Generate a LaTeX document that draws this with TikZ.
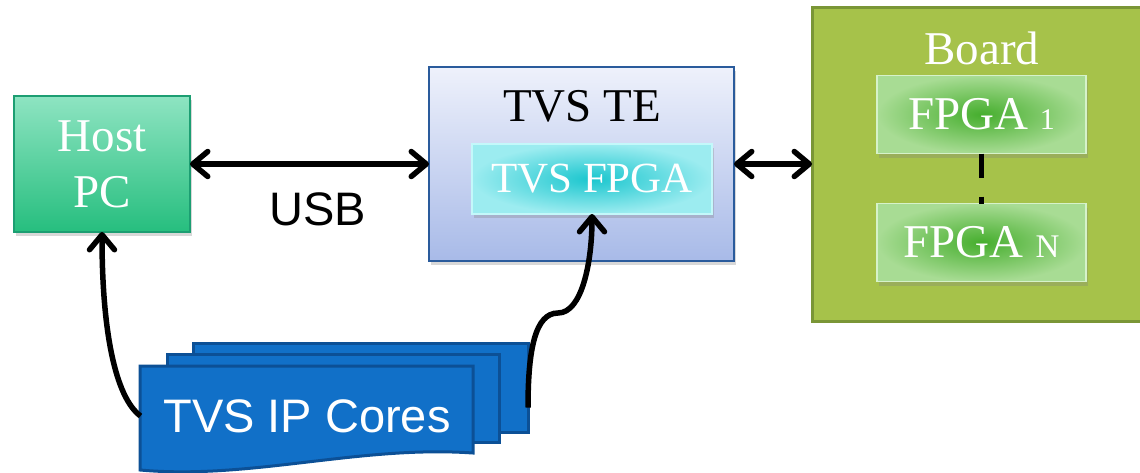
\documentclass[tikz,border=0pt]{standalone}
\usepackage{fontspec}
\setmainfont{Liberation Serif}
\setsansfont{Liberation Sans}
\usepackage{tikz}
\usetikzlibrary{positioning}
\usetikzlibrary{calc}
\usetikzlibrary{arrows.meta}
\usetikzlibrary{shadows}

\definecolor{hostgreen}{HTML}{26BE7E}
\definecolor{hostlight}{HTML}{8EE4C2}
\definecolor{hostedge}{HTML}{1C9E72}
\definecolor{teblue}{HTML}{A8BAE8}
\definecolor{telight}{HTML}{EEF1FB}
\definecolor{teedge}{HTML}{2A5B9C}
\definecolor{cyandark}{HTML}{1AC6CE}
\definecolor{cyanlight}{HTML}{9CECF0}
\definecolor{cyanedge}{HTML}{C4F8FA}
\definecolor{boardgreen}{HTML}{A6C24A}
\definecolor{boardedge}{HTML}{7A9636}
\definecolor{fpgadark}{HTML}{46AE2E}
\definecolor{fpgalight}{HTML}{A8DC94}
\definecolor{fpgaedge}{HTML}{D6F2CA}
\definecolor{cardblue}{HTML}{1170C8}
\definecolor{cardedge}{HTML}{0C5096}

\begin{document}
\begin{tikzpicture}[x=1pt, y=-1pt, >={Straight Barb[length=15pt,width=25pt,round]},
    every node/.style={inner sep=0pt, outer sep=0pt},
    wire/.style={line width=5.5pt},
    bigtext/.style={font=\fontsize{47}{56}\selectfont},
    boxshadow/.style={drop shadow={shadow xshift=2pt, shadow yshift=-4pt, opacity=0.3}},
    fpgabox/.style={draw=fpgaedge, line width=1.5pt, inner color=fpgadark, outer color=fpgalight,
        text=white, bigtext, minimum width=209pt, minimum height=78pt, boxshadow},
    card/.style={fill=cardblue, draw=cardedge, line width=3pt}]
    \useasboundingbox (0,0) rectangle (1140,472);
    \fill[white] (0,0) rectangle (1140,472);

    % the host and the test environment
    \node[draw=hostedge, line width=1.5pt, top color=hostlight, bottom color=hostgreen, text=white,
        bigtext, align=center, minimum width=176pt, minimum height=136pt, boxshadow] (host) at (102,164) {Host\\PC};

    \node[draw=teedge, line width=1.5pt, top color=telight, bottom color=teblue,
        minimum width=305pt, minimum height=194pt, boxshadow] (tvste) at (581.5,164) {};
    \node[bigtext] (tvstelabel) at (582,106) {TVS TE};
    \node[draw=cyanedge, line width=1.5pt, inner color=cyandark, outer color=cyanlight, text=white,
        font=\fontsize{43}{50}\selectfont, minimum width=240pt, minimum height=70pt, boxshadow] (tvsfpga) at (592,179) {TVS FPGA};

    % the board with its fpgas
    \node[draw=boardedge, fill=boardgreen, line width=3pt, minimum width=333pt, minimum height=314pt] (board) at (978.5,164) {};
    \node[bigtext, text=white] (boardlabel) at (982,48) {Board};
    \node[fpgabox] (fpga1) at (981.5,114.5) {FPGA {\fontsize{30}{30}\selectfont 1}};
    \node[fpgabox] (fpgan) at (981.5,242.5) {FPGA {\fontsize{33}{33}\selectfont N}};
    \draw[line width=5.5pt, dash pattern=on 24pt off 19pt] (fpga1) to (fpgan);

    % the stack of ip cores
    \node[card, minimum width=335pt, minimum height=89pt] (ipback) at (360.5,387.5) {};
    \node[card, minimum width=332pt, minimum height=88pt] (ipmid) at (333,398) {};
    \filldraw[card] (140,366) -- (473,366) -- (473,453) .. controls (360,445) and (250,480) .. (140,470) -- cycle;
    \node[font=\sffamily\fontsize{47}{56}\selectfont, text=white, minimum width=333pt, minimum height=104pt] (ipcores) at (307,416) {TVS IP Cores};

    % the arrows and labels
    \draw[wire,<->] (host) to (tvste);
    \draw[wire,<->] (tvste) to (board);
    \node[font=\sffamily\fontsize{47}{56}\selectfont] (usb) at (318,209) {USB};
    \draw[wire,->] (ipcores.west) .. controls (115,397) and (102,330) .. (host.south);
    \draw[wire,->] ($(ipback.east)+(0,20)$) .. controls (528,350) and (535,313) .. (558,313)
        .. controls (582,313) and (592,262) .. (tvsfpga.south);
\end{tikzpicture}
\end{document}
